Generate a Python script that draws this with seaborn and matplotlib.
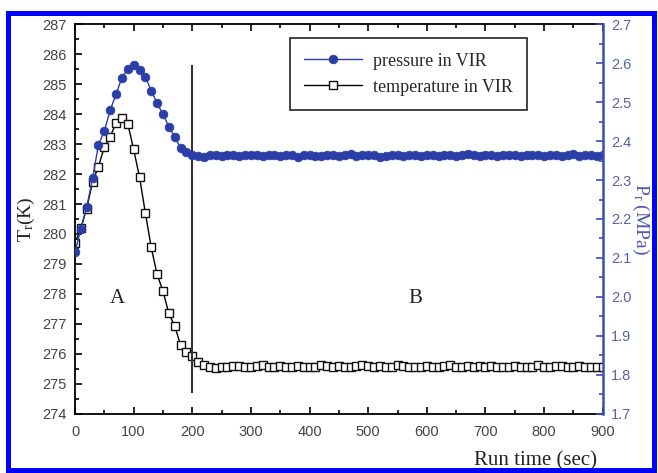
import numpy as np
import matplotlib
matplotlib.use("Agg")
import matplotlib.pyplot as plt
import seaborn as sns
from matplotlib.patches import Rectangle
from matplotlib.ticker import MultipleLocator

# sampling times (s)
run_time = np.arange(0, 901, 10)

# temperature in VIR (K)
temperature = [
    279.70, 280.20, 280.85, 281.75, 282.25, 282.90, 283.25, 283.70, 283.87, 283.68,
    282.82, 281.90, 280.70, 279.55, 278.65, 278.10, 277.35, 276.93, 276.30, 276.08,
    275.92, 275.74, 275.62, 275.58, 275.52, 275.55, 275.58, 275.60, 275.60, 275.56,
    275.55, 275.60, 275.62, 275.58, 275.57, 275.60, 275.55, 275.57, 275.60, 275.57,
    275.56, 275.58, 275.62, 275.60, 275.58, 275.60, 275.57, 275.55, 275.60, 275.62,
    275.60, 275.58, 275.60, 275.56, 275.57, 275.62, 275.60, 275.57, 275.56, 275.58,
    275.60, 275.57, 275.58, 275.60, 275.62, 275.58, 275.55, 275.60, 275.58, 275.60,
    275.57, 275.60, 275.58, 275.57, 275.55, 275.60, 275.58, 275.57, 275.58, 275.62,
    275.56, 275.58, 275.60, 275.60, 275.57, 275.56, 275.60, 275.58, 275.55, 275.58,
    275.57,
]

# pressure in VIR (MPa)
pressure = [
    2.115, 2.175, 2.230, 2.305, 2.390, 2.426, 2.479, 2.520, 2.563, 2.584,
    2.595, 2.582, 2.565, 2.529, 2.497, 2.469, 2.437, 2.411, 2.382, 2.373,
    2.364, 2.361, 2.360, 2.363, 2.364, 2.362, 2.363, 2.365, 2.362, 2.364,
    2.363, 2.365, 2.361, 2.363, 2.364, 2.362, 2.365, 2.363, 2.360, 2.364,
    2.363, 2.361, 2.362, 2.364, 2.365, 2.362, 2.363, 2.366, 2.361, 2.363,
    2.365, 2.363, 2.360, 2.362, 2.365, 2.364, 2.362, 2.363, 2.365, 2.361,
    2.363, 2.364, 2.362, 2.365, 2.363, 2.361, 2.364, 2.366, 2.363, 2.362,
    2.364, 2.363, 2.361, 2.363, 2.365, 2.363, 2.362, 2.364, 2.363, 2.365,
    2.362, 2.363, 2.364, 2.361, 2.363, 2.366, 2.362, 2.363, 2.364, 2.361,
    2.363,
]

series_labels = ["pressure in VIR", "temperature in VIR"]
boundary_t = 200
boundary_span = (274.7, 285.65)
region_labels = ["A", "B"]
region_x = [60, 568]
region_y = 277.7

BLUE = "#2a3ea8"
AXBLUE = "#3a4db5"

sns.set_theme(style="ticks")
plt.rcParams["font.family"] = ["Liberation Sans", "DejaVu Sans"]
plt.rcParams["mathtext.fontset"] = "custom"
plt.rcParams["mathtext.rm"] = "Liberation Serif"
plt.rcParams["mathtext.it"] = "Liberation Serif:italic"

fig = plt.figure(figsize=(6.58, 4.73), dpi=100)
ax = fig.add_axes([0.114, 0.125, 0.802, 0.824])
ax2 = ax.twinx()

sns.lineplot(x=run_time, y=temperature, ax=ax, color="black", linewidth=1,
             marker="s", markersize=5.2, markerfacecolor="white",
             markeredgecolor="#111111", markeredgewidth=1)
sns.lineplot(x=run_time, y=pressure, ax=ax2, color=BLUE, linewidth=1,
             marker="o", markersize=6.3, markerfacecolor=BLUE,
             markeredgecolor=BLUE, markeredgewidth=0.5)

ax.vlines(boundary_t, boundary_span[0], boundary_span[1], color="#333333", linewidth=1.5)
for lab, xx in zip(region_labels, region_x):
    ax.text(xx, region_y, lab, fontsize=15, family="Liberation Serif", color="#222222")

ax.set_xlim(0, 900)
ax.set_ylim(274, 287)
ax2.set_ylim(1.7, 2.7)
ax.xaxis.set_major_locator(MultipleLocator(100))
ax.xaxis.set_minor_locator(MultipleLocator(50))
ax.yaxis.set_major_locator(MultipleLocator(1))
ax.yaxis.set_minor_locator(MultipleLocator(0.5))
ax2.yaxis.set_major_locator(MultipleLocator(0.1))
ax2.yaxis.set_minor_locator(MultipleLocator(0.05))

ax.tick_params(which="both", direction="in", top=True, right=False,
               colors="black", labelcolor="#444444", labelsize=10.5, width=1.2)
ax.tick_params(which="major", length=5)
ax.tick_params(which="minor", length=3)
ax.tick_params(axis="y", pad=6)
ax.tick_params(axis="x", pad=8)
ax2.tick_params(which="both", direction="in", colors=AXBLUE,
                labelcolor="#5862a6", labelsize=10.5, width=1.2, pad=6)
ax2.tick_params(which="major", length=5)
ax2.tick_params(which="minor", length=3)

for s in ["left", "top", "bottom"]:
    ax.spines[s].set_color("black")
    ax.spines[s].set_linewidth(1.3)
    ax2.spines[s].set_visible(False)
ax.spines["right"].set_visible(False)
ax2.spines["right"].set_color(AXBLUE)
ax2.spines["right"].set_linewidth(1.8)

ax.set_xlabel("Run time (sec)", fontsize=15, family="Liberation Serif",
              color="#222222", loc="right")
ax.xaxis.set_label_coords(0.99, -0.097)
ax.set_ylabel(r"T$_\mathrm{r}$(K)", fontsize=14, family="Liberation Serif",
              color="#222222", labelpad=4)
ax2.set_ylabel(r"P$_\mathrm{r}$ (MPa)", fontsize=14, family="Liberation Serif",
               color="#4a58b0", rotation=270, labelpad=14)

handles = [ax2.lines[0], ax.lines[0]]
leg = ax2.legend(handles, series_labels, loc="upper left",
                 bbox_to_anchor=(0.407, 0.964), borderaxespad=0,
                 frameon=True, fancybox=False,
                 edgecolor="#222222", framealpha=1, handlelength=3.2,
                 handletextpad=0.6, labelspacing=0.5, borderpad=0.8,
                 prop={"family": "Liberation Serif", "size": 13})
leg.get_frame().set_linewidth(1.2)

fig.patches.append(Rectangle((0.0114, 0.0063), 0.9825, 0.967, transform=fig.transFigure,
                             fill=False, edgecolor="#0000ff", linewidth=3.6, zorder=10))

fig.savefig("out.png", dpi=100)
